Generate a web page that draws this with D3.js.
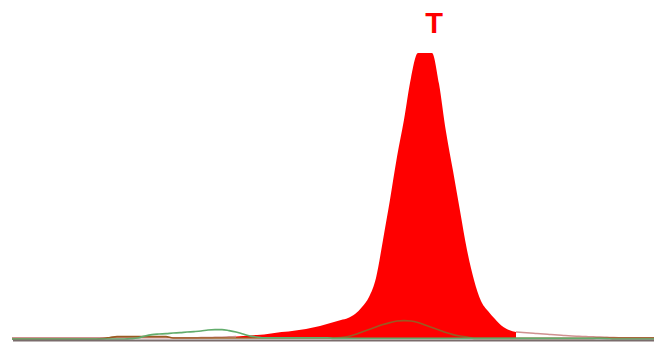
<!DOCTYPE html>
<html>
<head>
<meta charset="utf-8">
<script src="https://cdn.jsdelivr.net/npm/d3@7"></script>
<style>
  html, body { margin: 0; padding: 0; background: #ffffff; }
  svg { display: block; }
</style>
</head>
<body>
<svg id="chart" width="654" height="343"></svg>
<script>
// Chromatogram traces, one value per scan sample
const traceT = [
  8, 8, 8, 8, 8, 8, 8, 8, 8, 8,
  8, 8, 8, 8, 8, 8, 8, 8, 8, 8,
  8, 8, 8, 8, 8, 9, 9, 10, 10, 12,
  13, 15, 17, 21, 24, 28, 31, 38, 45, 50,
  56, 63, 70, 80, 91, 105, 119, 133, 147, 175,
  224, 294, 427, 693, 973, 1274, 1533, 1827, 2000, 2000,
  2000, 1785, 1449, 1176, 896, 623, 413, 266, 196, 140,
  91, 63, 49, 45, 42, 38, 35, 31, 28, 24,
  21, 19, 17, 15, 14, 12, 10, 9, 8, 8,
  8, 8, 8
];
const traceA = [
  0, 0, 0, 0, 0, 0, 0, 0, 0, 0, 0, 0, 0, 0, 0, 0, 0, 2,
  7, 21, 31, 35, 38, 42, 45, 49, 52, 56, 63, 66, 66, 59, 49, 35, 21, 14,
  8, 8, 8, 8, 8, 8, 8, 8, 8, 8,
  5, 5, 5, 5, 5, 5, 5, 5, 5, 5, 5, 5, 5, 5, 5, 5, 5, 5, 5, 5, 5, 5, 5, 5, 5, 5,
  4, 4, 4, 4, 4, 4, 4, 4, 4, 4, 4, 4, 4, 3,
  0, 0, 0, 0, 0, 0, 0
];
const traceG = [
  0, 0, 0, 0, 0, 0, 0, 0, 0, 0, 0, 0, 0, 3,
  10,
  17, 17, 17, 17, 17, 17, 17, 17,
  7, 7, 7, 7, 7, 7, 7, 7, 7, 7, 7, 7, 7, 7, 7, 7, 7, 7, 7, 7, 7, 7, 7,
  7, 10, 17, 31, 49, 66, 84, 101, 115, 126, 129, 126, 115, 98, 80, 63, 45, 31, 21, 14,
  5, 5, 5, 5, 5, 5, 5, 5, 5, 5, 5, 5, 5, 5, 5, 5, 5, 5,
  7, 7, 7, 7, 7, 7, 7, 7, 7
];

// Called base and the scan window it covers
const baseCall = "T";
const callWindow = [32, 72];
const callPeak = 59;

const svg = d3.select("#chart");
const W = 654, H = 343;

const x = d3.scaleLinear().domain([0, traceT.length - 1]).range([12, 656]);
const y = d3.scaleLinear().domain([0, 2000]).range([339, 53]);

const idx = d3.range(traceT.length);
const curve = d3.curveMonotoneX;

// filled peak for the called base
const inWin = idx.filter(i => i >= callWindow[0] && i <= callWindow[1]);
const area = d3.area()
  .curve(curve)
  .x(i => x(i))
  .y0(y(0) - 1)
  .y1(i => y(traceT[i]));
svg.append("path")
  .datum(inWin)
  .attr("d", area)
  .attr("fill", "#ff0000");

const line = arr => d3.line().curve(curve).x(i => x(i)).y(i => y(arr[i]));

// T trace outside the filled window
const leftPart = idx.filter(i => i <= callWindow[0]);
const rightPart = idx.filter(i => i >= callWindow[1]);
[leftPart, rightPart].forEach(part => {
  svg.append("path")
    .datum(part)
    .attr("d", line(traceT))
    .attr("fill", "none")
    .attr("stroke", "#d09090")
    .attr("stroke-width", 1.5);
});

// G trace
svg.append("path")
  .datum(idx)
  .attr("d", line(traceG))
  .attr("fill", "none")
  .attr("stroke", "#9a5a22")
  .attr("stroke-width", 1.7);

// A trace
svg.append("path")
  .datum(idx)
  .attr("d", line(traceA))
  .attr("fill", "none")
  .attr("stroke", "#62ac6c")
  .attr("stroke-width", 1.7);

// baseline
svg.append("line")
  .attr("x1", x(0) + 1).attr("x2", W)
  .attr("y1", y(0) + 1.5).attr("y2", y(0) + 1.5)
  .attr("stroke", "#7a6c6c")
  .attr("stroke-width", 2.2);

// base call label
svg.append("text")
  .attr("x", x(callPeak) + 9)
  .attr("y", 33)
  .attr("text-anchor", "middle")
  .attr("font-family", "Liberation Sans, Arial, sans-serif")
  .attr("font-weight", "bold")
  .attr("font-size", 29)
  .attr("fill", "#ff0000")
  .text(baseCall);
</script>
</body>
</html>
